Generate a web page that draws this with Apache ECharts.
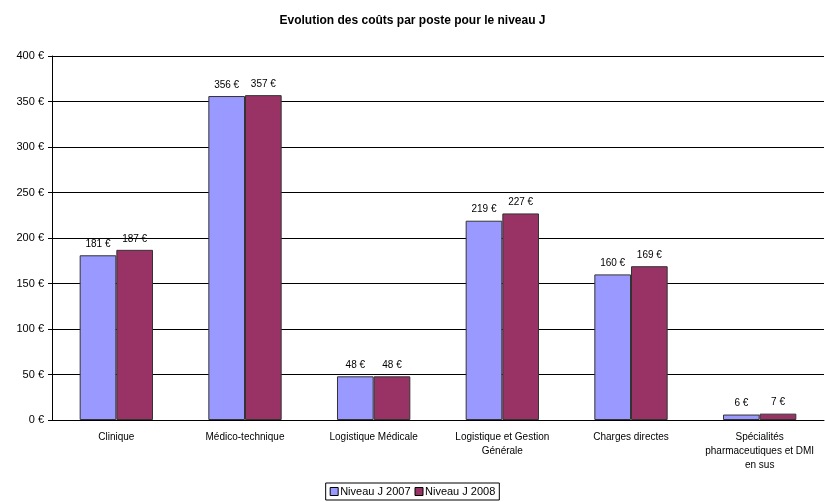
<!DOCTYPE html>
<html>
<head>
<meta charset="utf-8">
<script src="https://cdn.jsdelivr.net/npm/echarts@6/dist/echarts.min.js"></script>
<style>
  html, body { margin: 0; padding: 0; background: #fff; }
  #chart { width: 825px; height: 502px; }
</style>
</head>
<body>
<div id="chart"></div>
<script>
// données
var categories = ['Clinique', 'Médico-technique', 'Logistique Médicale', 'Logistique et Gestion\nGénérale', 'Charges directes', 'Spécialités\npharmaceutiques et DMI\nen sus']
var niveau2007 = [181, 356, 48, 219, 160, 6]
var niveau2008 = [187, 357, 48, 227, 169, 7]
var seriesNames = ['Niveau J 2007', 'Niveau J 2008']

var myChart = echarts.init(document.getElementById('chart'))

var font = 'Liberation Sans, Arial, sans-serif'

var option = {
  animation: false,
  textStyle: { fontFamily: font },
  title: {
    text: 'Evolution des coûts par poste pour le niveau J',
    left: 'center',
    top: 10,
    textStyle: { fontSize: 12, fontWeight: 'bold', color: '#000', fontFamily: font }
  },
  legend: {
    data: seriesNames,
    bottom: 2,
    left: 'center',
    icon: 'rect',
    itemWidth: 8,
    itemHeight: 8,
    itemGap: 4,
    padding: [3, 4],
    borderColor: '#000',
    borderWidth: 1,
    itemStyle: { borderColor: '#000', borderWidth: 1 },
    textStyle: { fontSize: 11, color: '#000', padding: [0, 0, 0, -3] }
  },
  grid: { left: 52, right: 1, top: 56, bottom: 82 },
  xAxis: {
    type: 'category',
    data: categories,
    axisLine: { lineStyle: { color: '#000' } },
    axisTick: { lineStyle: { color: '#000' }, length: 4 },
    axisLabel: { color: '#000', fontSize: 10, margin: 10, interval: 0, lineHeight: 14 }
  },
  yAxis: {
    type: 'value',
    min: 0,
    max: 400,
    interval: 50,
    axisLine: { show: true, lineStyle: { color: '#000' } },
    axisTick: { show: true, lineStyle: { color: '#000' }, length: 4 },
    splitLine: { lineStyle: { color: '#000' } },
    axisLabel: { color: '#000', fontSize: 11, formatter: '{value} €', margin: 8 }
  },
  series: [
    {
      name: seriesNames[0],
      type: 'bar',
      data: niveau2007,
      barGap: '0%',
      barCategoryGap: '43%',
      itemStyle: { color: '#9999FF', borderColor: '#333', borderWidth: 1 },
      label: { show: true, position: 'top', formatter: '{c} €', color: '#000', fontSize: 10, distance: 6 }
    },
    {
      name: seriesNames[1],
      type: 'bar',
      data: niveau2008,
      itemStyle: { color: '#993366', borderColor: '#333', borderWidth: 1 },
      label: { show: true, position: 'top', formatter: '{c} €', color: '#000', fontSize: 10, distance: 6 }
    }
  ]
}

myChart.setOption(option)
</script>
</body>
</html>
